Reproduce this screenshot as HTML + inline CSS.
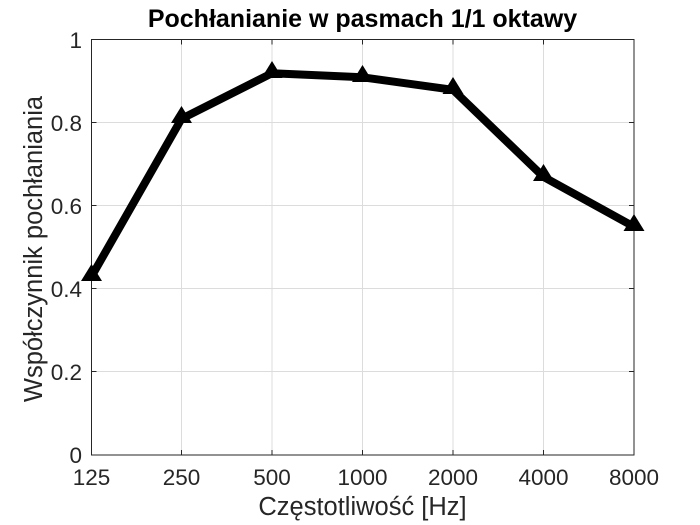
<!DOCTYPE html>
<html><head><meta charset="utf-8"><style>body{margin:0;background:#fff}svg{display:block}</style></head>
<body>
<svg width="700" height="525" xmlns="http://www.w3.org/2000/svg" font-family="Liberation Sans, Arial, sans-serif">
<rect width="700" height="525" fill="#fff"/>
<g stroke="#dcdcdc" stroke-width="1">
<line x1="181.5" y1="39.5" x2="181.5" y2="455"/>
<line x1="272" y1="39.5" x2="272" y2="455"/>
<line x1="362.5" y1="39.5" x2="362.5" y2="455"/>
<line x1="453" y1="39.5" x2="453" y2="455"/>
<line x1="543.5" y1="39.5" x2="543.5" y2="455"/>
<line x1="91.5" y1="122.5" x2="634" y2="122.5"/>
<line x1="91.5" y1="205.5" x2="634" y2="205.5"/>
<line x1="91.5" y1="288.5" x2="634" y2="288.5"/>
<line x1="91.5" y1="371.5" x2="634" y2="371.5"/>
</g>
<rect x="91.5" y="39.5" width="542.5" height="415.5" fill="none" stroke="#262626" stroke-width="1"/>
<g stroke="#262626" stroke-width="1">
<line x1="181.5" y1="455" x2="181.5" y2="450"/><line x1="272" y1="455" x2="272" y2="450"/><line x1="362.5" y1="455" x2="362.5" y2="450"/><line x1="453" y1="455" x2="453" y2="450"/><line x1="543.5" y1="455" x2="543.5" y2="450"/>
<line x1="181.5" y1="39.5" x2="181.5" y2="44.5"/><line x1="272" y1="39.5" x2="272" y2="44.5"/><line x1="362.5" y1="39.5" x2="362.5" y2="44.5"/><line x1="453" y1="39.5" x2="453" y2="44.5"/><line x1="543.5" y1="39.5" x2="543.5" y2="44.5"/>
<line x1="91.5" y1="122.5" x2="96.5" y2="122.5"/><line x1="91.5" y1="205.5" x2="96.5" y2="205.5"/><line x1="91.5" y1="288.5" x2="96.5" y2="288.5"/><line x1="91.5" y1="371.5" x2="96.5" y2="371.5"/>
<line x1="634" y1="122.5" x2="629" y2="122.5"/><line x1="634" y1="205.5" x2="629" y2="205.5"/><line x1="634" y1="288.5" x2="629" y2="288.5"/><line x1="634" y1="371.5" x2="629" y2="371.5"/>
</g>
<polyline fill="none" stroke="#000" stroke-width="8" stroke-linejoin="round" points="91.5,276.5 181.5,118.8 272,73.2 362.5,77.3 453,89.8 543.5,176.9 634,226.7"/>
<g fill="#000">
<path d="M91.5,264 l10.5,17 h-21z"/><path d="M181.5,106 l10.5,17 h-21z"/><path d="M272,61 l10.5,17 h-21z"/><path d="M362.5,65 l10.5,17 h-21z"/><path d="M453,77 l10.5,17 h-21z"/><path d="M543.5,164 l10.5,17 h-21z"/><path d="M634,214 l10.5,17 h-21z"/>
</g>
<g font-size="22.5" fill="#262626" text-anchor="end">
<text x="82" y="48">1</text><text x="82" y="131">0.8</text><text x="82" y="214">0.6</text><text x="82" y="297">0.4</text><text x="82" y="380">0.2</text><text x="82" y="463">0</text>
</g>
<g font-size="22.5" fill="#262626" text-anchor="middle">
<text x="91.5" y="485">125</text><text x="181.5" y="485">250</text><text x="272" y="485">500</text><text x="362.5" y="485">1000</text><text x="453" y="485">2000</text><text x="543.5" y="485">4000</text><text x="634" y="485">8000</text>
</g>
<text x="362.5" y="515" font-size="25.5" fill="#262626" text-anchor="middle">Częstotliwość [Hz]</text>
<text transform="translate(42,249) rotate(-90)" font-size="25.5" fill="#262626" text-anchor="middle">Współczynnik pochłaniania</text>
<text x="362.5" y="27" font-size="25" font-weight="bold" fill="#000" text-anchor="middle">Pochłanianie w pasmach 1/1 oktawy</text>
</svg>
</body></html>
